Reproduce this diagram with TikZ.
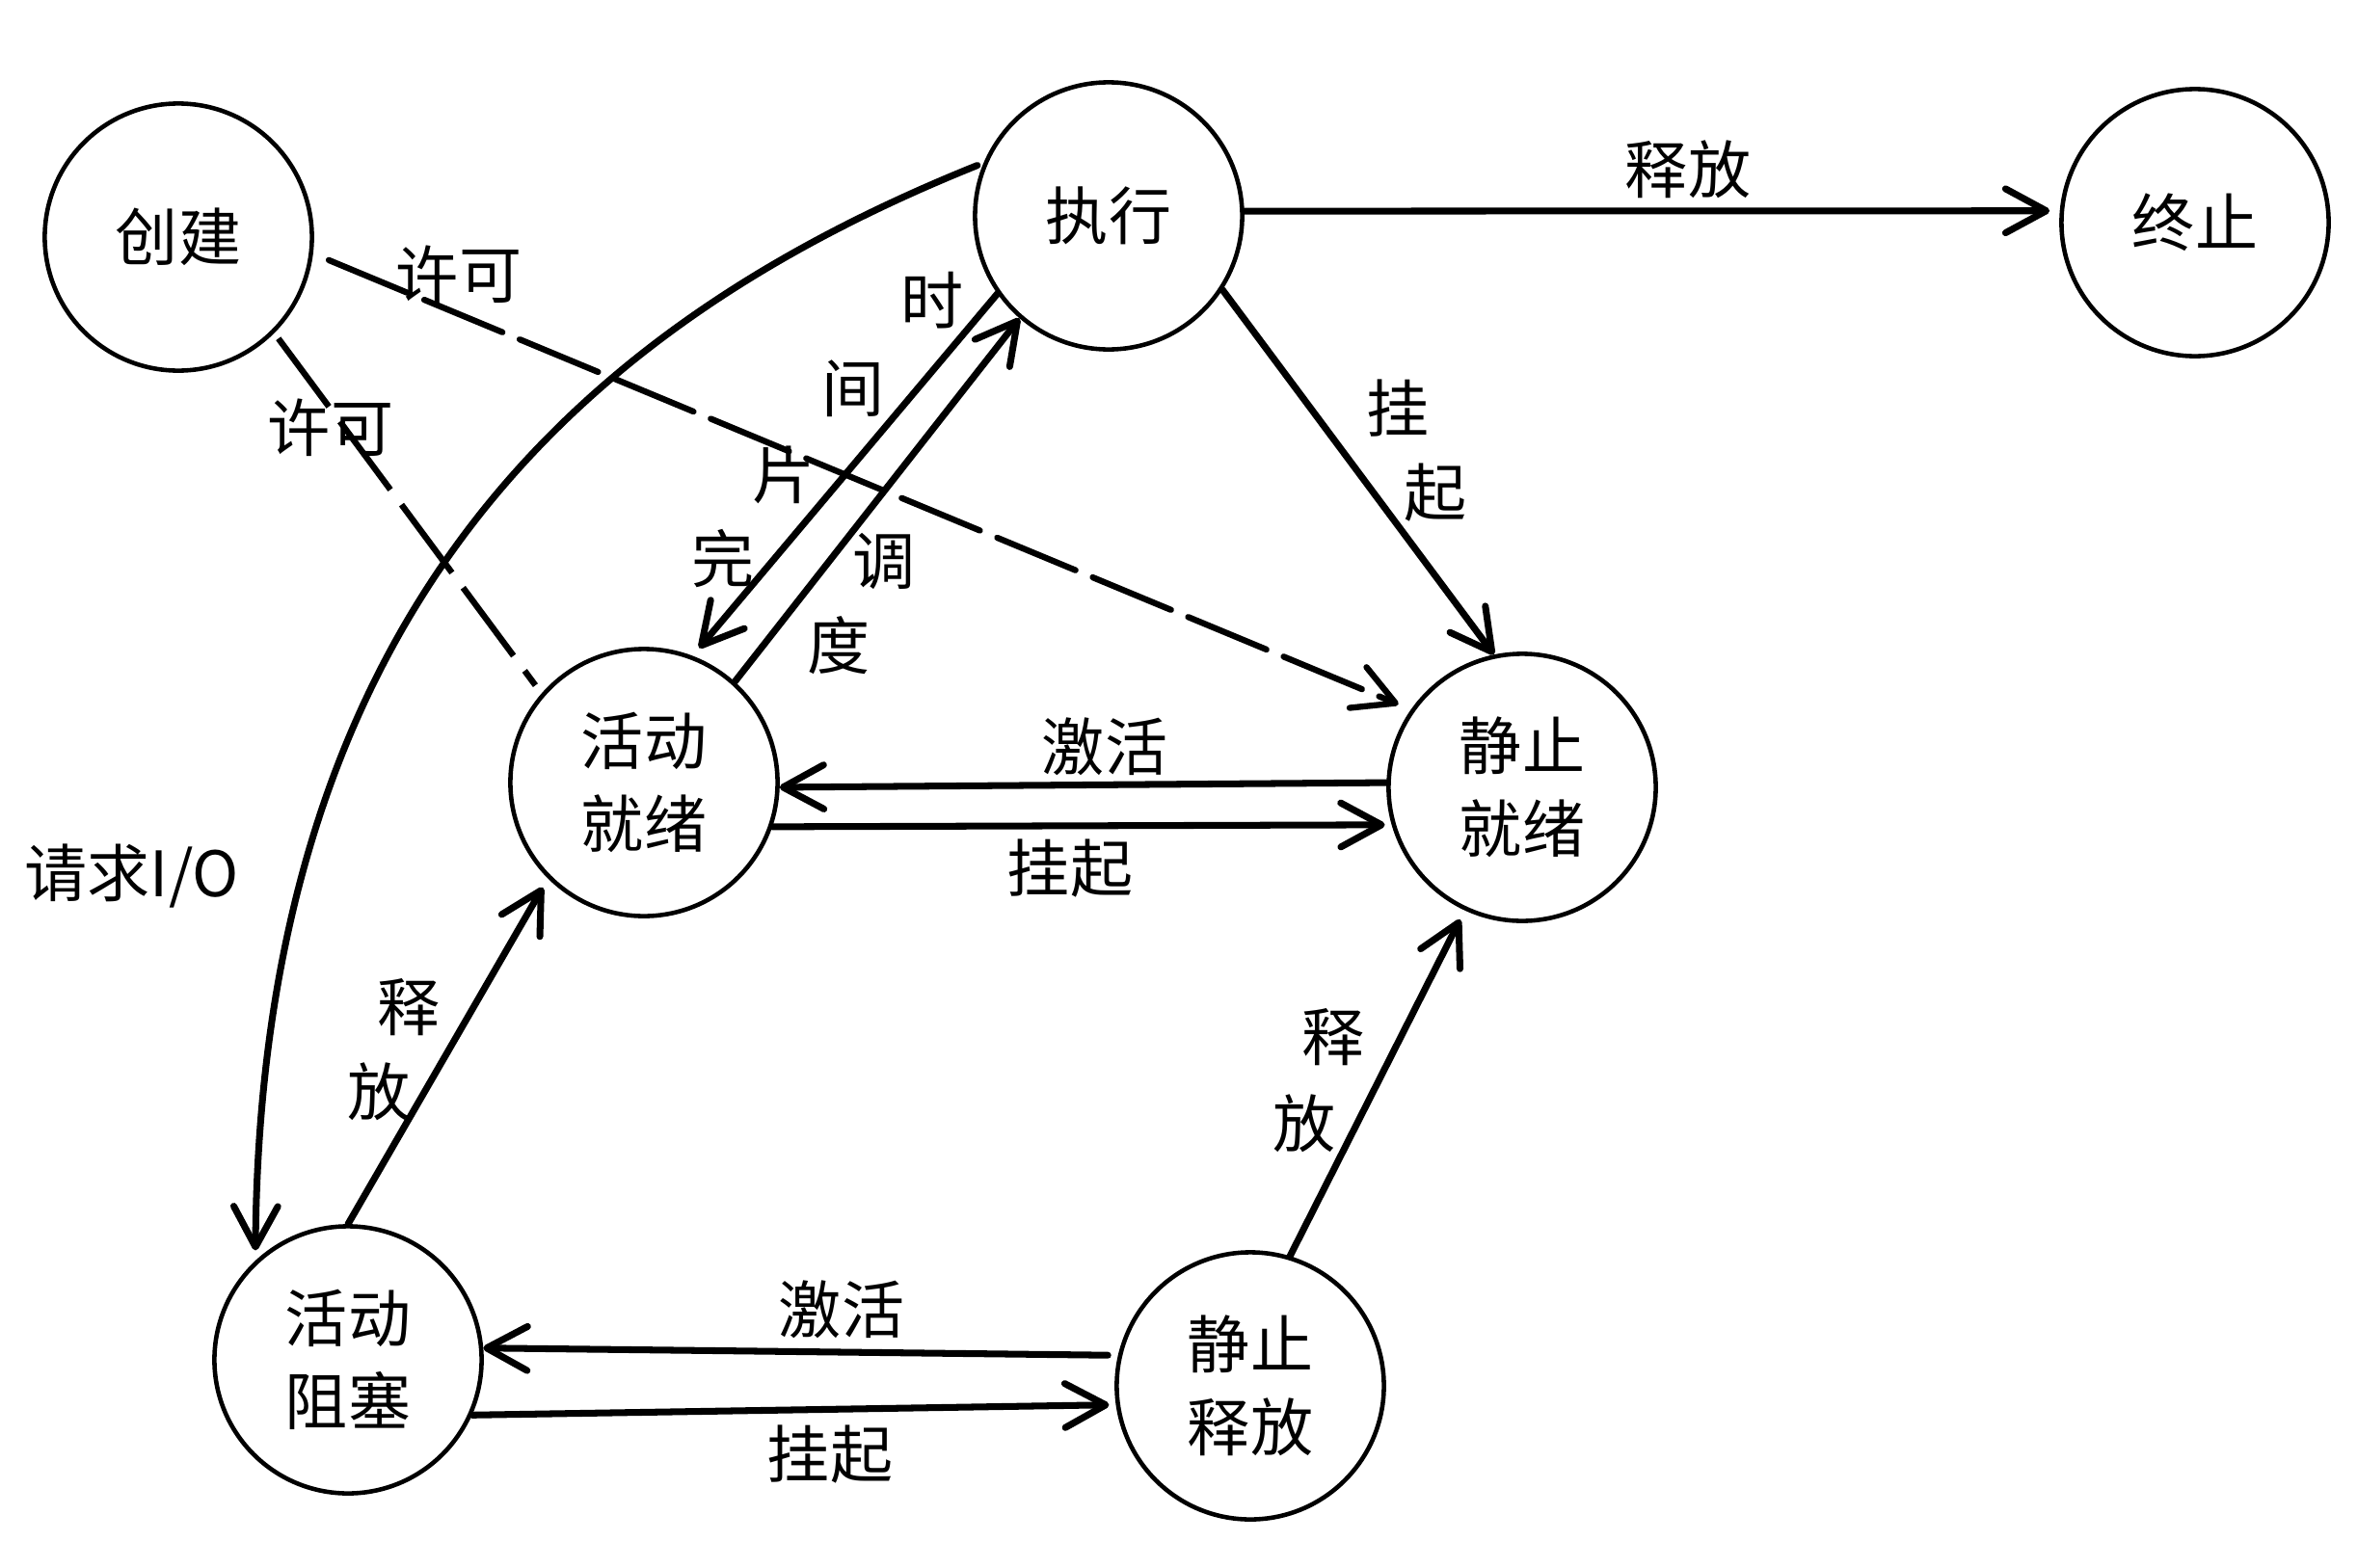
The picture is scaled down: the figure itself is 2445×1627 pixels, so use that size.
\documentclass[tikz,border=0pt]{standalone}
\usepackage{fontspec}
\setmainfont{Noto Sans CJK SC}
\usetikzlibrary{arrows.meta}
\begin{document}
\begin{tikzpicture}[x=0.01cm,y=-0.01cm,
  state/.style={circle,draw,line width=1.3pt,minimum size=2.77cm,inner sep=0pt,align=center,font=\fontsize{18.5pt}{24.5pt}\selectfont},
  lbl/.style={inner sep=0pt,font=\fontsize{18.5pt}{24.5pt}\selectfont},
  conn/.style={line width=2pt,line cap=round,-{Straight Barb[length=12pt,width=13pt,round]}},
  dashconn/.style={line width=1.8pt,dash pattern=on 25pt off 5.5pt},
]
\useasboundingbox (0,0) rectangle (2445,1627);
% states
\node[state] (create) at (185,246) {创建};
\node[state] (exec) at (1150,224) {执行};
\node[state] (term) at (2277,231) {终止};
\node[state] (ar) at (668,812) {活动\\就绪};
\node[state] (sr) at (1579,817) {静止\\就绪};
\node[state] (ab) at (361,1411) {活动\\阻塞};
\node[state] (sb) at (1297,1438) {静止\\释放};
% connectors
\draw[conn,shorten >=3pt] (exec.2) -- (term.175);
\draw[conn] (exec.-33) -- (sr.102);
\draw[conn] (ar.48) -- (exec.229);
\draw[conn,shorten >=3pt] (exec.215) -- (ar.69);
\draw[conn] (sr.178) -- (ar.-2);
\draw[conn,shorten >=2pt] (ar.-19.3) -- (sr.196);
\draw[dashconn,-{Straight Barb[length=12pt,width=13pt,round]},line cap=round,shorten <=5pt,shorten >=4pt] (create.-7) -- (sr.145);
\draw[dashconn,shorten <=2pt,shorten >=3pt] (create.-45.5) -- (ar.139);
\draw[conn,shorten <=2pt,shorten >=3pt] (exec.157) .. controls (620,330) and (270,620) .. (ab.133);
\draw[conn,shorten >=3pt] (ab.90) -- (ar.225);
\draw[conn,shorten >=3pt] (sb.73) -- (sr.245.5);
\draw[conn,shorten <=3pt] (sb.167) -- (ab.5);
\draw[conn,shorten >=2pt] (ab.-24) -- (sb.188.6);
% labels
\node[lbl] (l1) at (1751,176) {释放};
\node[lbl] (l2a) at (1450,424) {挂};
\node[lbl] (l2b) at (1489,511) {起};
\node[lbl] (l3a) at (967,312) {时};
\node[lbl] (l3b) at (885,403) {间};
\node[lbl] (l3c) at (813,493) {片};
\node[lbl] (l3d) at (750,580) {完};
\node[lbl] (l4a) at (917,582) {调};
\node[lbl] (l4b) at (870,670) {度};
\node[lbl] (l5) at (476,285) {许可};
\node[lbl] (l6) at (343,444) {许可};
\node[lbl] (l7) at (1146,775) {激活};
\node[lbl] (l8) at (1110,901) {挂起};
\node[lbl] (l9) at (137,909) {请求I/O};
\node[lbl] (l10a) at (424,1045) {释};
\node[lbl] (l10b) at (393,1133) {放};
\node[lbl] (l11a) at (1383,1076) {释};
\node[lbl] (l11b) at (1353,1166) {放};
\node[lbl] (l12) at (873,1359) {激活};
\node[lbl] (l13) at (861,1509) {挂起};
\end{tikzpicture}
\end{document}
